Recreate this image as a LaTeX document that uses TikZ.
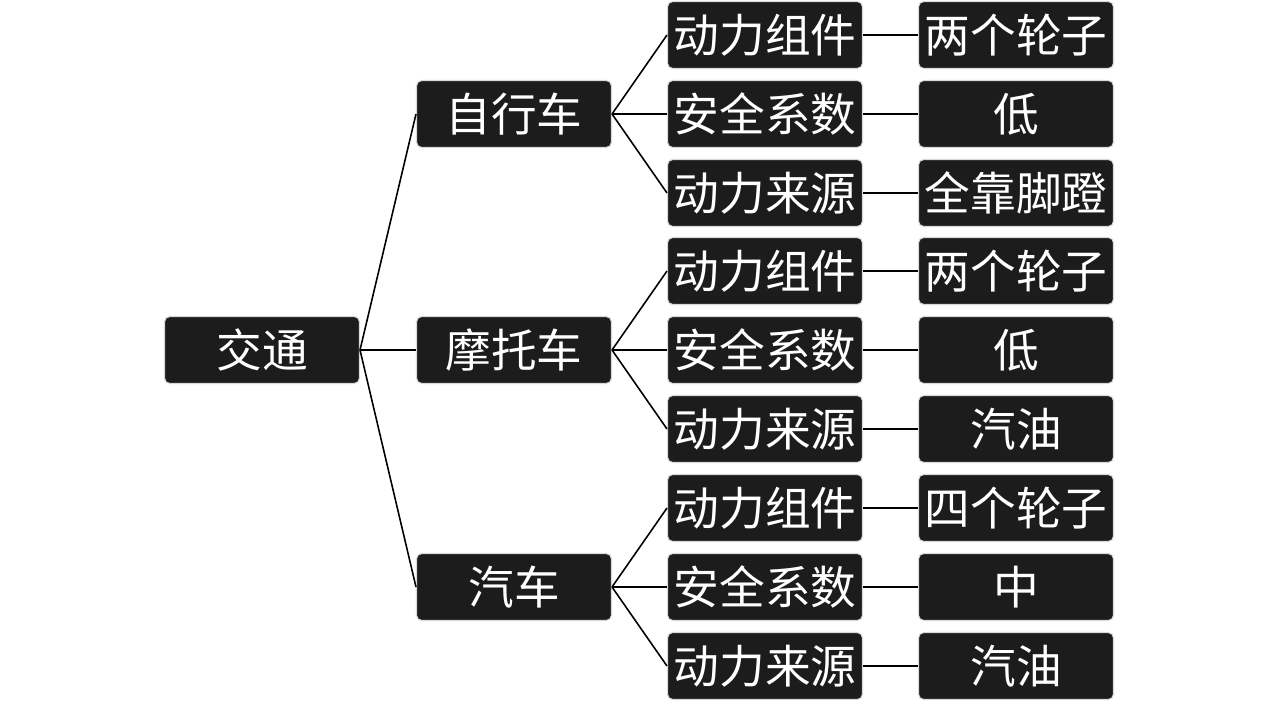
\documentclass[tikz,border=0pt]{standalone}
\usepackage{fontspec}
\newfontfamily\cjk{Noto Sans CJK SC}
\definecolor{boxfill}{HTML}{1C1C1C}
\definecolor{boxline}{HTML}{D8D8D8}
\begin{document}
\begin{tikzpicture}[x=0.02cm,y=-0.02cm,
    box/.style={draw=boxline, line width=0.6pt, fill=boxfill, rounded corners=3pt,
      minimum width=3.9cm, minimum height=1.34cm, inner sep=0pt, text=white,
      font=\cjk\fontsize{26}{30}\selectfont},
    link/.style={line width=0.9pt}]
    \useasboundingbox (0,0) rectangle (1280,702);
    \node[box] (root) at (262,350) {交通};
    \foreach \g/\txt/\yy in {a/自行车/114, b/摩托车/350, c/汽车/587} {
      \node[box] (\g) at (514,\yy) {\txt};
      \draw[link] (root.east) -- (\g.west);
    }
    \foreach \g/\yy/\p/\q/\r in {a/114/两个轮子/低/全靠脚蹬,
        b/350/两个轮子/低/汽油, c/587/四个轮子/中/汽油} {
      \foreach \k/\dy/\lab/\val in {1/-79/动力组件/\p, 2/0/安全系数/\q, 3/79/动力来源/\r} {
        \node[box] (\g\k) at (765,\yy+\dy) {\lab};
        \node[box] (\g\k v) at (1016,\yy+\dy) {\val};
        \draw[link] (\g.east) -- (\g\k.west);
        \draw[link] (\g\k.east) -- (\g\k v.west);
      }
    }
  \end{tikzpicture}
\end{document}
